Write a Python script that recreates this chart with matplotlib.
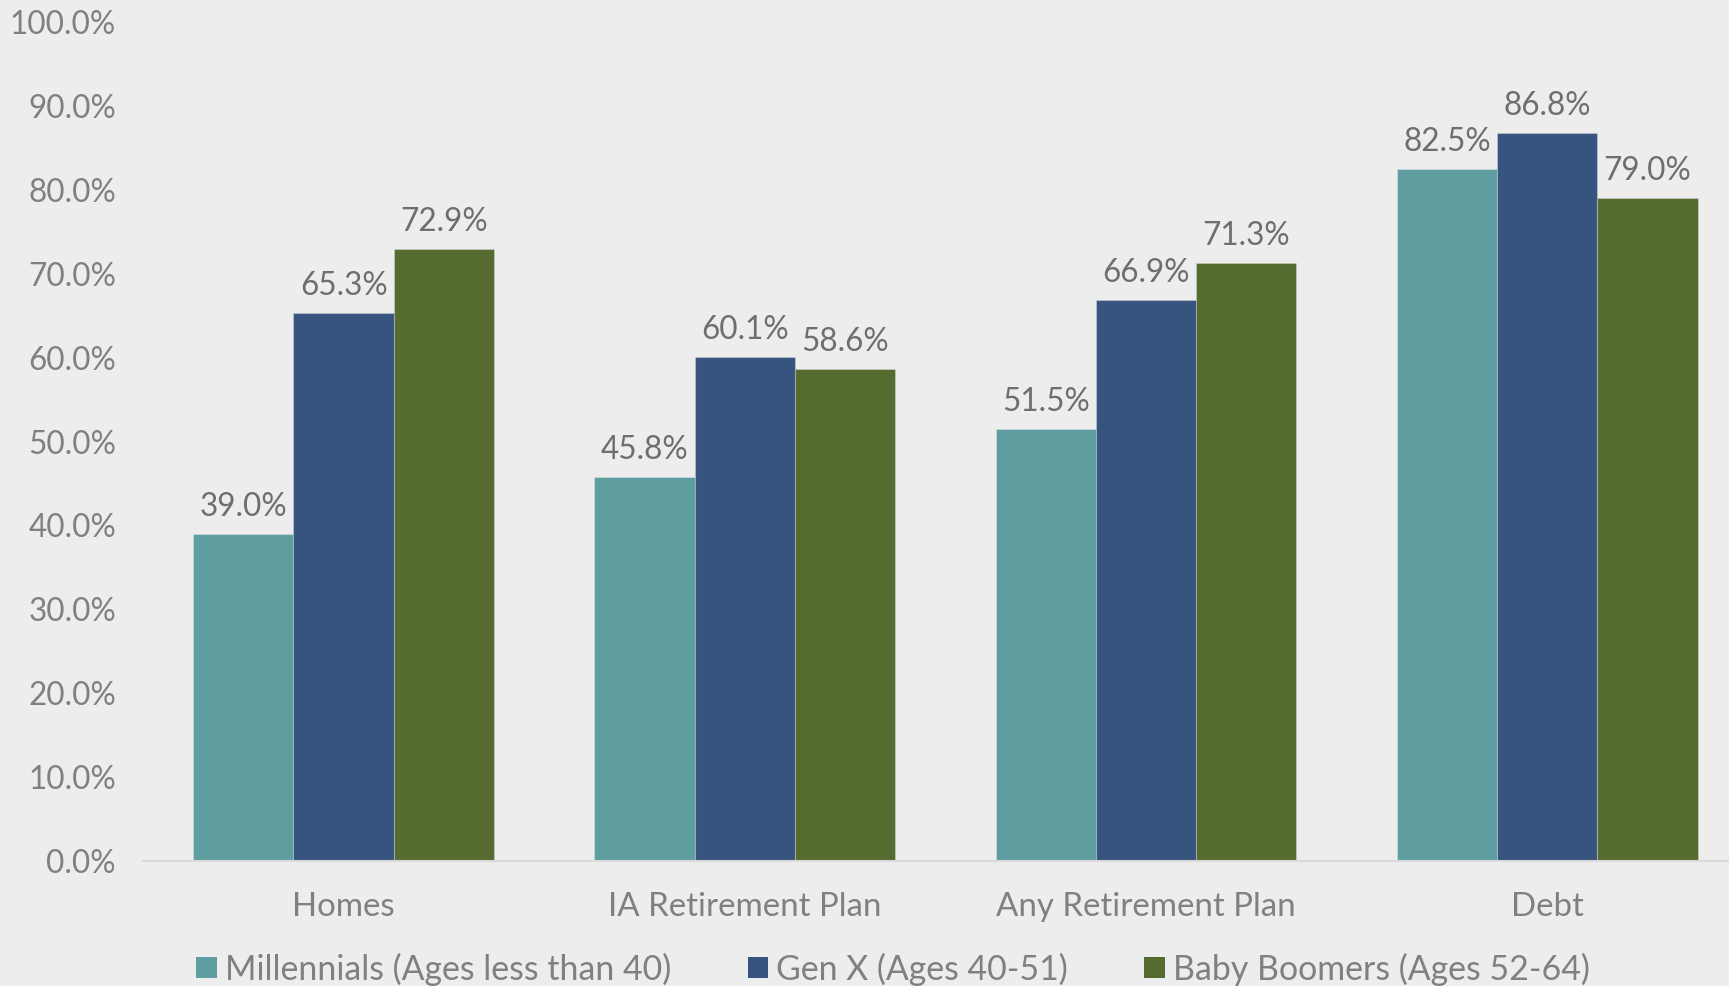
import numpy as np
import matplotlib.pyplot as plt
from matplotlib.ticker import FuncFormatter

plt.rcParams['font.family'] = ['Lato', 'DejaVu Sans']

categories = ['Homes', 'IA Retirement Plan', 'Any Retirement Plan', 'Debt']
series_names = ['Millennials (Ages less than 40)', 'Gen X (Ages 40-51)', 'Baby Boomers (Ages 52-64)']
millennials = [39.0, 45.8, 51.5, 82.5]
gen_x = [65.3, 60.1, 66.9, 86.8]
boomers = [72.9, 58.6, 71.3, 79.0]
colors = ['#5F9EA0', '#37547F', '#566B30']

bg = '#EDEDED'
txt = '#808080'

fig = plt.figure(figsize=(17.29, 9.86), dpi=100, facecolor=bg)
ax = fig.add_axes([143 / 1729, 125 / 986, 1 - 143 / 1729, 839 / 986], facecolor=bg)

x = np.arange(len(categories))
w = 0.25
for k, (vals, name, c) in enumerate(zip([millennials, gen_x, boomers], series_names, colors)):
    bars = ax.bar(x + (k - 1) * w, vals, w, color=c, label=name,
                  edgecolor=(1, 1, 1, 0.25), linewidth=0.8)
    for b, v in zip(bars, vals):
        ax.annotate('%.1f%%' % v, (b.get_x() + b.get_width() / 2, v),
                    xytext=(0, 19.5), textcoords='offset points',
                    ha='center', va='center', fontsize=22.7, color='#6E6E6E')

ax.set_ylim(0, 100)
ax.set_xlim(-0.5, 3.453)
ax.set_yticks(range(0, 101, 10))
ax.yaxis.set_major_formatter(FuncFormatter(lambda v, p: '%.1f%%' % v))
ax.set_xticks(x)
ax.set_xticklabels(categories)
ax.tick_params(axis='y', length=0, pad=19.5, labelsize=22.7, labelcolor=txt)
ax.tick_params(axis='x', length=0, pad=22, labelsize=23.8, labelcolor=txt)

for s in ['top', 'right', 'left']:
    ax.spines[s].set_visible(False)
ax.spines['bottom'].set_color('#D9D9D9')
ax.spines['bottom'].set_linewidth(1.5)

leg = fig.legend(loc='center', bbox_to_anchor=(0.5166, 1 - 969 / 986), ncol=3,
                 frameon=False, fontsize=24.4, handlelength=0.6, handleheight=0.6,
                 handletextpad=0.25, columnspacing=2.25, labelcolor=txt)
for h in leg.legend_handles:
    h.set_edgecolor('none')

fig.savefig('out.png', dpi=100, facecolor=bg)
